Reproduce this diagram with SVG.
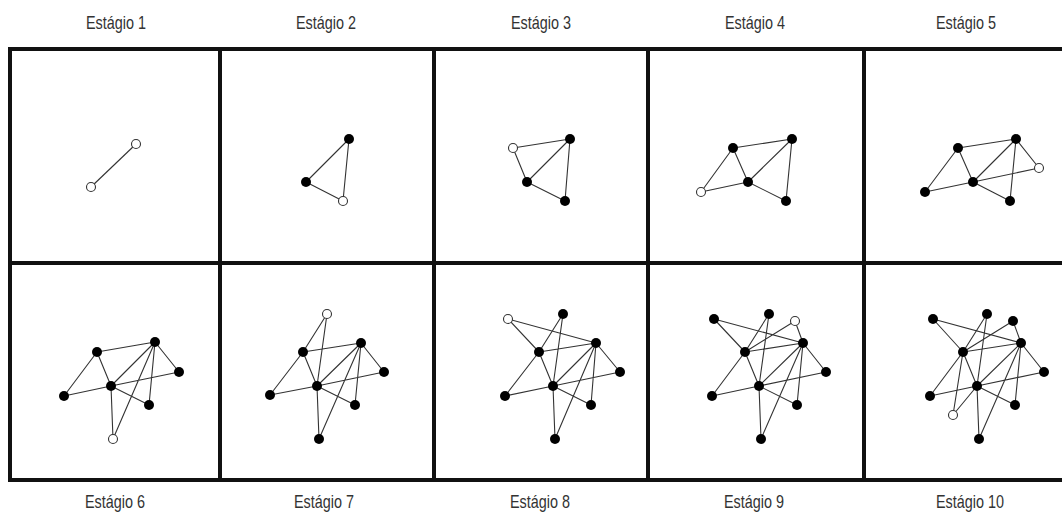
<svg xmlns="http://www.w3.org/2000/svg" width="1062" height="516" viewBox="0 0 1062 516">
<style>
.lbl{font-family:"Liberation Sans",Arial,sans-serif;font-size:18px;fill:#333;text-anchor:middle}
.grid{stroke:#111;stroke-width:4;fill:none}
.e{stroke:#333;stroke-width:1.1;fill:none}
.f{fill:#000}
.o{fill:#fff;stroke:#333;stroke-width:1.1}
</style>
<rect x="0" y="0" width="1062" height="516" fill="#fff"/>
<g id="labels">
<text class="lbl" transform="translate(116,29) scale(0.8,1)">Estágio 1</text>
<text class="lbl" transform="translate(326,29) scale(0.8,1)">Estágio 2</text>
<text class="lbl" transform="translate(541,29) scale(0.8,1)">Estágio 3</text>
<text class="lbl" transform="translate(755,29) scale(0.8,1)">Estágio 4</text>
<text class="lbl" transform="translate(966,29) scale(0.8,1)">Estágio 5</text>
<text class="lbl" transform="translate(115,508) scale(0.8,1)">Estágio 6</text>
<text class="lbl" transform="translate(324,508) scale(0.8,1)">Estágio 7</text>
<text class="lbl" transform="translate(540,508) scale(0.8,1)">Estágio 8</text>
<text class="lbl" transform="translate(754,508) scale(0.8,1)">Estágio 9</text>
<text class="lbl" transform="translate(970,508) scale(0.8,1)">Estágio 10</text>
</g>
<g id="grid" class="grid">
<path d="M10,49 H1070 M10,263 H1070 M10,480 H1070 M10,47 V482 M220,47 V482 M434,47 V482 M648,47 V482 M864,47 V482"/>
</g>
<g id="connectors" class="e">
<path d="M136,144 L91,187"/>
<path d="M349,139 L306,182 M349,139 L343,201 M306,182 L343,201"/>
<path d="M513,148 L570,139 M513,148 L527,182 M570,139 L527,182 M570,139 L565,201 M527,182 L565,201"/>
<path d="M701,192 L733,148 M701,192 L748,182 M733,148 L792,139 M733,148 L748,182 M792,139 L748,182 M792,139 L786,201 M748,182 L786,201"/>
<path d="M925,192 L958,148 M925,192 L973,182 M958,148 L1016,139 M958,148 L973,182 M1016,139 L973,182 M1016,139 L1010,201 M973,182 L1010,201 M1016,139 L1039,168 M973,182 L1039,168"/>
<path d="M64,396 L97,352 M64,396 L111,386 M97,352 L155,342 M97,352 L111,386 M155,342 L111,386 M155,342 L149,405 M111,386 L149,405 M155,342 L179,372 M111,386 L179,372 M111,386 L113,439 M155,342 L113,439"/>
<path d="M327,314 L303,352 M327,314 L317,386 M270,395 L303,352 M270,395 L317,386 M303,352 L361,343 M303,352 L317,386 M361,343 L317,386 M361,343 L355,405 M361,343 L384,372 M317,386 L384,372 M317,386 L355,405 M317,386 L319,439 M361,343 L319,439"/>
<path d="M508,319 L539,352 M508,319 L596,343 M563,314 L539,352 M563,314 L553,386 M505,396 L539,352 M505,396 L553,386 M539,352 L596,343 M539,352 L553,386 M596,343 L553,386 M596,343 L591,405 M596,343 L620,372 M553,386 L620,372 M553,386 L591,405 M553,386 L555,439 M596,343 L555,439"/>
<path d="M714,319 L745,352 M714,319 L803,343 M769,314 L745,352 M769,314 L759,386 M795,321 L745,352 M795,321 L803,343 M712,396 L745,352 M712,396 L759,386 M745,352 L803,343 M745,352 L759,386 M803,343 L759,386 M803,343 L797,405 M803,343 L826,372 M759,386 L826,372 M759,386 L797,405 M759,386 L761,439 M803,343 L761,439"/>
<path d="M933,319 L963,352 M933,319 L1021,343 M987,314 L963,352 M987,314 L977,386 M1013,321 L963,352 M1013,321 L1021,343 M930,396 L963,352 M930,396 L977,386 M963,352 L1021,343 M963,352 L977,386 M1021,343 L977,386 M1021,343 L1015,405 M1021,343 L1044,372 M977,386 L1044,372 M977,386 L1015,405 M977,386 L979,439 M1021,343 L979,439 M953,415 L963,352 M953,415 L977,386"/>
</g>
<g id="stage1">
<g id="s1-a"><circle class="o" cx="136" cy="144" r="4.5"/></g>
<g id="s1-b"><circle class="o" cx="91" cy="187" r="4.5"/></g>
</g>
<g id="stage2">
<g id="s2-a"><circle class="f" cx="349" cy="139" r="5"/></g>
<g id="s2-b"><circle class="f" cx="306" cy="182" r="5"/></g>
<g id="s2-c"><circle class="o" cx="343" cy="201" r="4.5"/></g>
</g>
<g id="stage3">
<g id="s3-o"><circle class="o" cx="513" cy="148" r="4.5"/></g>
<g id="s3-a"><circle class="f" cx="570" cy="139" r="5"/></g>
<g id="s3-b"><circle class="f" cx="527" cy="182" r="5"/></g>
<g id="s3-c"><circle class="f" cx="565" cy="201" r="5"/></g>
</g>
<g id="stage4">
<g id="s4-o"><circle class="o" cx="701" cy="192" r="4.5"/></g>
<g id="s4-p"><circle class="f" cx="733" cy="148" r="5"/></g>
<g id="s4-q"><circle class="f" cx="792" cy="139" r="5"/></g>
<g id="s4-r"><circle class="f" cx="748" cy="182" r="5"/></g>
<g id="s4-s"><circle class="f" cx="786" cy="201" r="5"/></g>
</g>
<g id="stage5">
<g id="s5-a"><circle class="f" cx="925" cy="192" r="5"/></g>
<g id="s5-p"><circle class="f" cx="958" cy="148" r="5"/></g>
<g id="s5-q"><circle class="f" cx="1016" cy="139" r="5"/></g>
<g id="s5-r"><circle class="f" cx="973" cy="182" r="5"/></g>
<g id="s5-s"><circle class="f" cx="1010" cy="201" r="5"/></g>
<g id="s5-o"><circle class="o" cx="1039" cy="168" r="4.5"/></g>
</g>
<g id="stage6">
<g id="s6-a"><circle class="f" cx="64" cy="396" r="5"/></g>
<g id="s6-p"><circle class="f" cx="97" cy="352" r="5"/></g>
<g id="s6-q"><circle class="f" cx="155" cy="342" r="5"/></g>
<g id="s6-r"><circle class="f" cx="111" cy="386" r="5"/></g>
<g id="s6-s"><circle class="f" cx="149" cy="405" r="5"/></g>
<g id="s6-t"><circle class="f" cx="179" cy="372" r="5"/></g>
<g id="s6-o"><circle class="o" cx="113" cy="439" r="4.5"/></g>
</g>
<g id="stage7">
<g id="s7-o"><circle class="o" cx="327" cy="314" r="4.5"/></g>
<g id="s7-p"><circle class="f" cx="303" cy="352" r="5"/></g>
<g id="s7-q"><circle class="f" cx="361" cy="343" r="5"/></g>
<g id="s7-t"><circle class="f" cx="384" cy="372" r="5"/></g>
<g id="s7-r"><circle class="f" cx="317" cy="386" r="5"/></g>
<g id="s7-a"><circle class="f" cx="270" cy="395" r="5"/></g>
<g id="s7-s"><circle class="f" cx="355" cy="405" r="5"/></g>
<g id="s7-u"><circle class="f" cx="319" cy="439" r="5"/></g>
</g>
<g id="stage8">
<g id="s8-o"><circle class="o" cx="508" cy="319" r="4.5"/></g>
<g id="s8-v"><circle class="f" cx="563" cy="314" r="5"/></g>
<g id="s8-p"><circle class="f" cx="539" cy="352" r="5"/></g>
<g id="s8-q"><circle class="f" cx="596" cy="343" r="5"/></g>
<g id="s8-t"><circle class="f" cx="620" cy="372" r="5"/></g>
<g id="s8-r"><circle class="f" cx="553" cy="386" r="5"/></g>
<g id="s8-a"><circle class="f" cx="505" cy="396" r="5"/></g>
<g id="s8-s"><circle class="f" cx="591" cy="405" r="5"/></g>
<g id="s8-u"><circle class="f" cx="555" cy="439" r="5"/></g>
</g>
<g id="stage9">
<g id="s9-w"><circle class="f" cx="714" cy="319" r="5"/></g>
<g id="s9-v"><circle class="f" cx="769" cy="314" r="5"/></g>
<g id="s9-o"><circle class="o" cx="795" cy="321" r="4.5"/></g>
<g id="s9-p"><circle class="f" cx="745" cy="352" r="5"/></g>
<g id="s9-q"><circle class="f" cx="803" cy="343" r="5"/></g>
<g id="s9-t"><circle class="f" cx="826" cy="372" r="5"/></g>
<g id="s9-r"><circle class="f" cx="759" cy="386" r="5"/></g>
<g id="s9-a"><circle class="f" cx="712" cy="396" r="5"/></g>
<g id="s9-s"><circle class="f" cx="797" cy="405" r="5"/></g>
<g id="s9-u"><circle class="f" cx="761" cy="439" r="5"/></g>
</g>
<g id="stage10">
<g id="s10-w"><circle class="f" cx="933" cy="319" r="5"/></g>
<g id="s10-v"><circle class="f" cx="987" cy="314" r="5"/></g>
<g id="s10-x"><circle class="f" cx="1013" cy="321" r="5"/></g>
<g id="s10-p"><circle class="f" cx="963" cy="352" r="5"/></g>
<g id="s10-q"><circle class="f" cx="1021" cy="343" r="5"/></g>
<g id="s10-t"><circle class="f" cx="1044" cy="372" r="5"/></g>
<g id="s10-r"><circle class="f" cx="977" cy="386" r="5"/></g>
<g id="s10-a"><circle class="f" cx="930" cy="396" r="5"/></g>
<g id="s10-s"><circle class="f" cx="1015" cy="405" r="5"/></g>
<g id="s10-u"><circle class="f" cx="979" cy="439" r="5"/></g>
<g id="s10-o"><circle class="o" cx="953" cy="415" r="4.5"/></g>
</g>
</svg>
